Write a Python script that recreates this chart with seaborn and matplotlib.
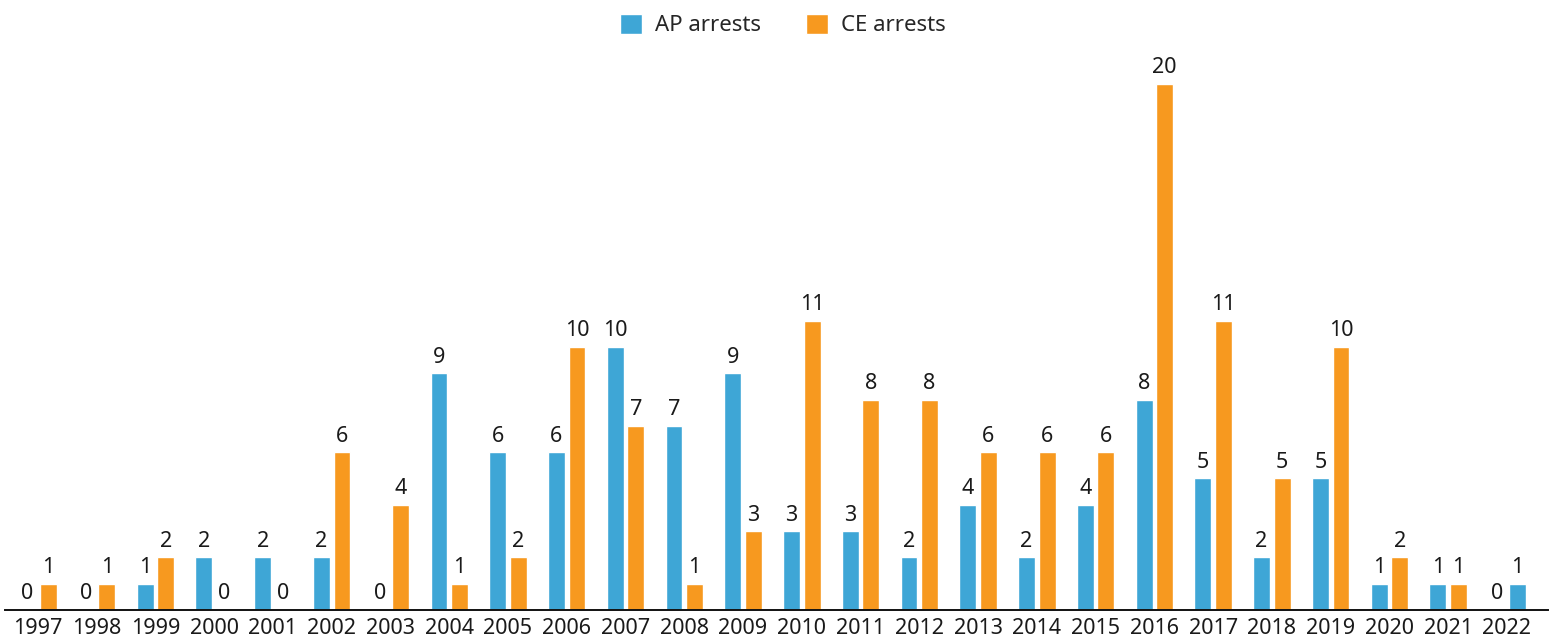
import matplotlib
matplotlib.use("Agg")
import matplotlib.pyplot as plt
import numpy as np
import pandas as pd
import seaborn as sns

sns.set_theme(style="white")
plt.rcParams['font.family'] = ['Noto Sans', 'DejaVu Sans']

# data (one slot per bar: left = AP, right = CE)
years = [str(y) for y in range(1997, 2023)]
ap_arrests = [0, 0, 1, 2, 2, 2, 0, 9, 6, 6, 10, 7, 9, 3, 3, 2, 4, 2, 4, 8, 5, 2, 5, 1, 1, 0]
ce_arrests = [1, 1, 2, 0, 0, 6, 4, 1, 2, 10, 7, 1, 3, 11, 8, 8, 6, 6, 6, 20, 11, 5, 10, 2, 1, 1]

blue = "#3EA6D6"
orange = "#F7991F"

df = pd.DataFrame({
    "year": years * 2,
    "value": ap_arrests + ce_arrests,
    "series": ["AP arrests"] * len(years) + ["CE arrests"] * len(years),
})

fig = plt.figure(figsize=(15.54, 6.38), dpi=100)
ax = fig.add_axes([0.0032, 0.0439, 0.993, 0.878])

sns.barplot(data=df, x="year", y="value", hue="series",
            palette=[blue, orange], width=0.7, gap=0.18,
            saturation=1, ax=ax, legend=True)

# in the source, the 2022 bar in the right slot is drawn in blue
last = ax.containers[1].patches[-1]
last.set_facecolor(blue)

for cont in ax.containers:
    ax.bar_label(cont, fmt="%d", padding=4, fontsize=15.5, color="#1a1a1a")

ax.set_xlim(-0.56, 25.7)
ax.set_ylim(0, 21.3)
ax.set_xlabel("")
ax.set_ylabel("")
ax.set_yticks([])
for s in ["top", "right", "left"]:
    ax.spines[s].set_visible(False)
ax.spines["bottom"].set_color("#111111")
ax.spines["bottom"].set_linewidth(1.4)
ax.tick_params(axis="x", length=0, pad=6, labelsize=15.5, labelcolor="#1a1a1a")

handles, labels = ax.get_legend_handles_labels()
ax.legend(handles, labels, loc="upper center", bbox_to_anchor=(0.504, 1.1),
          ncol=2, frameon=False, fontsize=16, handlelength=1.0,
          handleheight=1.0, handletextpad=0.6, columnspacing=2.0)

fig.savefig("out.png", dpi=100)
